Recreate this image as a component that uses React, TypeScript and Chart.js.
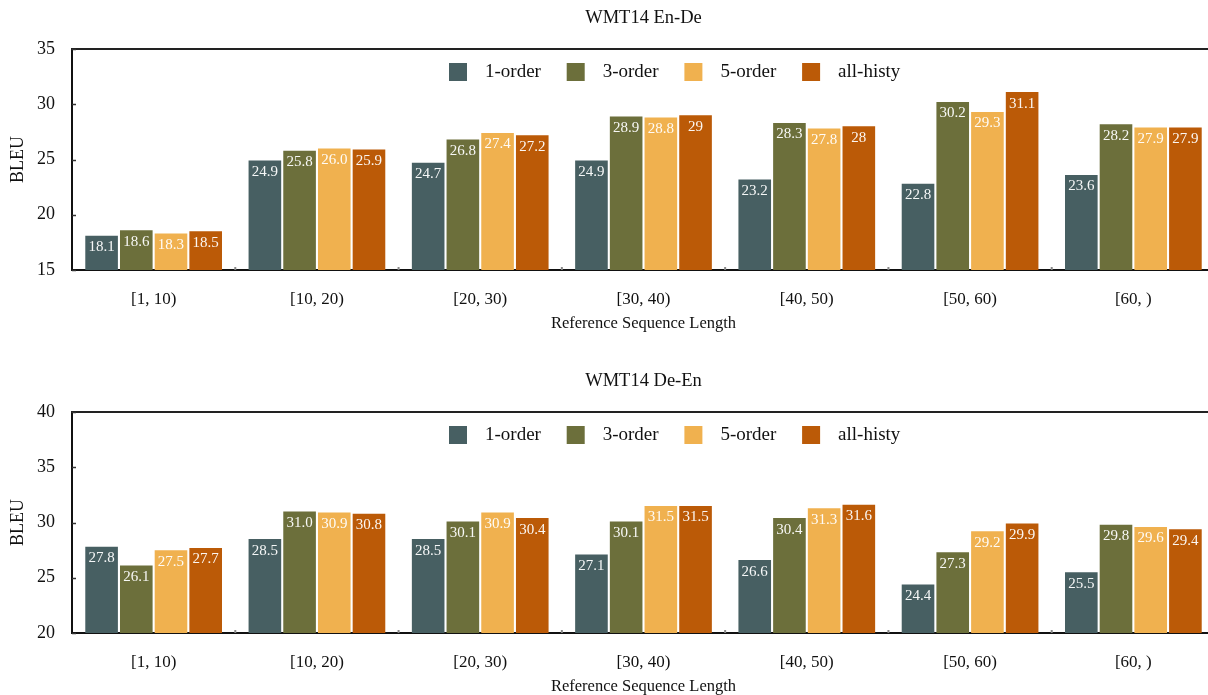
import React, { useEffect, useRef } from "react";
import { Chart, registerables } from "chart.js";

Chart.register(...registerables);

const categories = ["[1, 10)", "[10, 20)", "[20, 30)", "[30, 40)", "[40, 50)", "[50, 60)", "[60, )"];
const seriesNames = ["1-order", "3-order", "5-order", "all-histy"];
const seriesColors = ["#475f62", "#6c6f3b", "#f0b14f", "#bb5a07"];

// WMT14 En-De
const enDe1 = [18.1, 24.9, 24.7, 24.9, 23.2, 22.8, 23.6];
const enDe3 = [18.6, 25.8, 26.8, 28.9, 28.3, 30.2, 28.2];
const enDe5 = [18.3, 26.0, 27.4, 28.8, 27.8, 29.3, 27.9];
const enDeAll = [18.5, 25.9, 27.2, 29, 28, 31.1, 27.9];
const enDeAllText = ["18.5", "25.9", "27.2", "29", "28", "31.1", "27.9"];
const enDeTicks = [15, 20, 25, 30, 35];

// WMT14 De-En
const deEn1 = [27.8, 28.5, 28.5, 27.1, 26.6, 24.4, 25.5];
const deEn3 = [26.1, 31.0, 30.1, 30.1, 30.4, 27.3, 29.8];
const deEn5 = [27.5, 30.9, 30.9, 31.5, 31.3, 29.2, 29.6];
const deEnAll = [27.7, 30.8, 30.4, 31.5, 31.6, 29.9, 29.4];
const deEnTicks = [20, 25, 30, 35, 40];

const FONT = "'Liberation Serif', 'Times New Roman', serif";
const INK = "#111111";

const fmt = (v: number) => v.toFixed(1);

const decorPlugin = {
  id: "decor",
  afterDatasetsDraw(chart: any) {
    const ctx = chart.ctx;
    ctx.save();
    ctx.font = `15px ${FONT}`;
    ctx.fillStyle = "rgba(255,255,255,0.95)";
    ctx.textAlign = "center";
    ctx.textBaseline = "middle";
    chart.data.datasets.forEach((ds: any, di: number) => {
      const meta = chart.getDatasetMeta(di);
      meta.data.forEach((bar: any, i: number) => {
        const txt = ds.valueText[i];
        ctx.fillText(txt, bar.x, bar.y + 11.5);
      });
    });
    ctx.restore();
  },
  afterDraw(chart: any) {
    const ctx = chart.ctx;
    const area = chart.chartArea;
    const opts = chart.options.plugins.decor || {};
    ctx.save();
    // title centred over the plot area
    ctx.font = `18.5px ${FONT}`;
    ctx.fillStyle = INK;
    ctx.textAlign = "center";
    ctx.textBaseline = "middle";
    ctx.fillText(opts.title || "", (area.left + area.right) / 2, 18);
    // top border
    ctx.strokeStyle = "#222";
    ctx.lineWidth = 2;
    ctx.beginPath();
    ctx.moveTo(area.left - 1, area.top);
    ctx.lineTo(area.right, area.top);
    ctx.stroke();
    // y inward ticks
    const ys = chart.scales.y;
    ctx.lineWidth = 1.5;
    ctx.strokeStyle = "#333";
    ys.ticks.forEach((t: any) => {
      const py = Math.round(ys.getPixelForValue(t.value)) + 0.5;
      ctx.beginPath();
      ctx.moveTo(area.left, py);
      ctx.lineTo(area.left + 4, py);
      ctx.stroke();
    });
    // x boundary marks
    const xs = chart.scales.x;
    ctx.strokeStyle = "#888";
    ctx.lineWidth = 2;
    for (let i = 1; i < categories.length; i++) {
      const px = (xs.getPixelForValue(i - 1) + xs.getPixelForValue(i)) / 2;
      ctx.beginPath();
      ctx.moveTo(px, area.bottom - 3);
      ctx.lineTo(px, area.bottom);
      ctx.stroke();
    }
    // legend
    const startX = area.left + 377;
    const step = 117.7;
    const cy = area.top + 23;
    ctx.font = `19px ${FONT}`;
    ctx.textAlign = "left";
    ctx.textBaseline = "middle";
    chart.data.datasets.forEach((ds: any, di: number) => {
      const bx = startX + di * step;
      ctx.fillStyle = ds.backgroundColor;
      ctx.fillRect(bx, cy - 9, 18, 18);
      ctx.fillStyle = INK;
      ctx.fillText(ds.label, bx + 36, cy);
    });
    ctx.restore();
  },
};

type Props = {
  top: number;
  title: string;
  ticks: number[];
  series: number[][];
  texts: string[][];
};

function BarPanel({ top, title, ticks, series, texts }: Props) {
  const ref = useRef<HTMLCanvasElement>(null);
  useEffect(() => {
    if (!ref.current) return;
    const chart = new Chart(ref.current, {
      type: "bar",
      data: {
        labels: categories,
        datasets: series.map((vals, i) => ({
          label: seriesNames[i],
          data: vals,
          valueText: texts[i],
          backgroundColor: seriesColors[i],
          borderWidth: 0,
          categoryPercentage: 0.85,
          barPercentage: 0.94,
        })) as any,
      },
      options: {
        responsive: true,
        maintainAspectRatio: false,
        animation: false,
        layout: { padding: { top: 49, left: 0, right: 0, bottom: 0 } },
        plugins: {
          legend: { display: false },
          tooltip: { enabled: false },
          title: { display: false },
          decor: { title },
        } as any,
        scales: {
          x: {
            grid: { display: false },
            border: { display: true, color: INK, width: 2 },
            ticks: { color: INK, font: { family: FONT, size: 17 }, padding: 11, maxRotation: 0 },
            title: {
              display: true,
              text: "Reference Sequence Length",
              color: INK,
              font: { family: FONT, size: 16.5 },
              padding: { top: 0, bottom: 29.4 },
            },
            afterFit: (s: any) => {
              s.height = 93;
            },
          },
          y: {
            min: ticks[0],
            max: ticks[ticks.length - 1],
            afterBuildTicks: (s: any) => {
              s.ticks = ticks.map((v) => ({ value: v }));
            },
            grid: { display: false },
            border: { display: true, color: INK, width: 2 },
            ticks: { color: INK, font: { family: FONT, size: 18 }, padding: 9 },
            title: {
              display: true,
              text: "BLEU",
              color: INK,
              font: { family: FONT, size: 18 },
              padding: { top: 7, bottom: 0 },
            },
            afterFit: (s: any) => {
              s.width = 72;
            },
          },
        },
      },
      plugins: [decorPlugin as any],
    });
    return () => chart.destroy();
  }, []);
  return (
    <div style={{ position: "absolute", left: 0, top, width: 1215, height: 363 }}>
      <canvas ref={ref} />
    </div>
  );
}

export default function App() {
  return (
    <div
      style={{
        position: "fixed",
        left: 0,
        top: 0,
        width: 1208,
        height: 695,
        overflow: "hidden",
        background: "#fff",
      }}
    >
      <BarPanel
        top={0}
        title="WMT14 En-De"
        ticks={enDeTicks}
        series={[enDe1, enDe3, enDe5, enDeAll]}
        texts={[enDe1.map(fmt), enDe3.map(fmt), enDe5.map(fmt), enDeAllText]}
      />
      <BarPanel
        top={363}
        title="WMT14 De-En"
        ticks={deEnTicks}
        series={[deEn1, deEn3, deEn5, deEnAll]}
        texts={[deEn1.map(fmt), deEn3.map(fmt), deEn5.map(fmt), deEnAll.map(fmt)]}
      />
    </div>
  );
}
